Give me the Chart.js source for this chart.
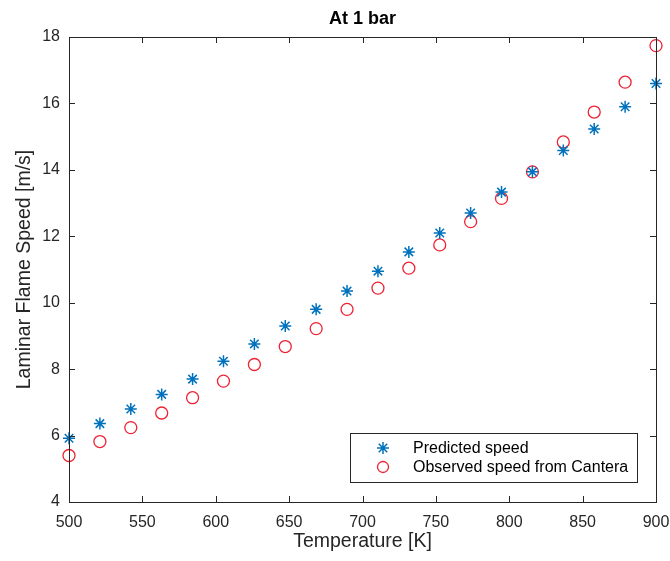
<!DOCTYPE html>
<html><head><meta charset="utf-8">
<script src="https://cdn.jsdelivr.net/npm/chart.js@4"></script>
<style>html,body{margin:0;padding:0;background:#fff}#w{width:670px;height:561px}</style>
</head><body><div id="w"><canvas id="c" width="670" height="561"></canvas></div>
<script>
const temperatures = [500,521.05,542.11,563.16,584.21,605.26,626.32,647.37,668.42,689.47,710.53,731.58,752.63,773.68,794.74,815.79,836.84,857.89,878.95,900];
const predicted = [5.92,6.36,6.8,7.24,7.7,8.24,8.76,9.3,9.8,10.35,10.95,11.53,12.1,12.7,13.33,13.94,14.58,15.23,15.9,16.6];
const observed = [5.4,5.82,6.24,6.68,7.14,7.64,8.14,8.68,9.22,9.8,10.44,11.04,11.74,12.44,13.14,13.94,14.84,15.74,16.64,17.74];
const xTicks = [500,550,600,650,700,750,800,850,900];
const yTicks = [4,6,8,10,12,14,16,18];
const seriesNames = ['Predicted speed','Observed speed from Cantera'];
const titleText = 'At 1 bar';

const AX = '#262626';
const BLUE = '#0072BD';
const RED = '#EE2233';
const FONT = '"Liberation Sans", Arial, Helvetica, sans-serif';

const frame = {
  id: 'frame',
  afterDraw(chart) {
    const {ctx, chartArea: a, scales} = chart;
    ctx.save();
    ctx.strokeStyle = AX; ctx.lineWidth = 1;
    ctx.strokeRect(Math.round(a.left)+0.5, Math.round(a.top)+0.5, Math.round(a.right-a.left), Math.round(a.bottom-a.top));
    const tl = 6;
    ctx.beginPath();
    xTicks.forEach(v => {
      const x = Math.round(scales.x.getPixelForValue(v)) + 0.5;
      ctx.moveTo(x, a.bottom); ctx.lineTo(x, a.bottom - tl);
      ctx.moveTo(x, a.top); ctx.lineTo(x, a.top + tl);
    });
    yTicks.forEach(v => {
      const y = Math.round(scales.y.getPixelForValue(v)) + 0.5;
      ctx.moveTo(a.left, y); ctx.lineTo(a.left + tl, y);
      ctx.moveTo(a.right, y); ctx.lineTo(a.right - tl, y);
    });
    ctx.stroke();
    // title
    ctx.fillStyle = '#000';
    ctx.font = 'bold 18px ' + FONT;
    ctx.textAlign = 'center'; ctx.textBaseline = 'middle';
    ctx.fillText(titleText, (a.left + a.right) / 2, 19);
    // legend
    const lx = 350, ly = 433, lw = 287, lh = 49;
    ctx.fillStyle = '#fff';
    ctx.fillRect(lx, ly, lw, lh);
    ctx.strokeStyle = AX;
    ctx.strokeRect(lx + 0.5, ly + 0.5, lw, lh);
    ctx.font = '16px ' + FONT;
    ctx.textAlign = 'left';
    chart.data.datasets.forEach((ds, i) => {
      const cy = 448 + i * 19;
      ctx.strokeStyle = ds.borderColor;
      ctx.lineWidth = ds.borderWidth;
      ctx.beginPath();
      if (ds.pointStyle === 'circle') {
        ctx.arc(383, cy, ds.pointRadius - 0.5, 0, Math.PI * 2);
      } else {
        const r = ds.pointRadius;
        for (let k = 0; k < 4; k++) {
          const ang = k * Math.PI / 4;
          ctx.moveTo(383 - r * Math.cos(ang), cy - r * Math.sin(ang));
          ctx.lineTo(383 + r * Math.cos(ang), cy + r * Math.sin(ang));
        }
      }
      ctx.stroke();
      ctx.fillStyle = '#000';
      ctx.fillText(seriesNames[i], 413, cy + 1);
    });
    ctx.restore();
  }
};

new Chart(document.getElementById('c'), {
  type: 'scatter',
  data: {
    datasets: [
      {label: seriesNames[0], data: temperatures.map((t, i) => ({x: t, y: predicted[i]})),
       pointStyle: 'star', pointRadius: 6, borderWidth: 1.5, borderColor: BLUE, backgroundColor: BLUE, clip: false},
      {label: seriesNames[1], data: temperatures.map((t, i) => ({x: t, y: observed[i]})),
       pointStyle: 'circle', pointRadius: 6, borderWidth: 1.3, borderColor: RED, backgroundColor: 'rgba(0,0,0,0)', clip: false}
    ]
  },
  options: {
    responsive: false, animation: false, devicePixelRatio: 1,
    layout: {padding: {top: 37, right: 14, bottom: 0, left: 0}},
    plugins: {legend: {display: false}, title: {display: false}, tooltip: {enabled: false}},
    scales: {
      x: {
        type: 'linear', min: 500, max: 900,
        afterBuildTicks: s => { s.ticks = xTicks.map(v => ({value: v})); },
        afterFit: s => { s.height = 59; s.paddingLeft = 0; s.paddingRight = 0; },
        grid: {display: false, drawTicks: false},
        border: {display: false},
        ticks: {color: AX, font: {family: FONT, size: 16}, padding: 11, maxRotation: 0},
        title: {display: true, text: 'Temperature [K]', color: AX, font: {family: FONT, size: 19.5}, padding: {top: 0, bottom: 8}}
      },
      y: {
        type: 'linear', min: 4, max: 18,
        afterBuildTicks: s => { s.ticks = yTicks.map(v => ({value: v})); },
        afterFit: s => { s.width = 69; s.paddingTop = 0; s.paddingBottom = 0; },
        grid: {display: false, drawTicks: false},
        border: {display: false},
        ticks: {color: AX, font: {family: FONT, size: 16}, padding: 9},
        title: {display: true, text: 'Laminar Flame Speed [m/s]', color: AX, font: {family: FONT, size: 19.5}, padding: {top: 13, bottom: 0}}
      }
    }
  },
  plugins: [frame]
});
</script></body></html>
